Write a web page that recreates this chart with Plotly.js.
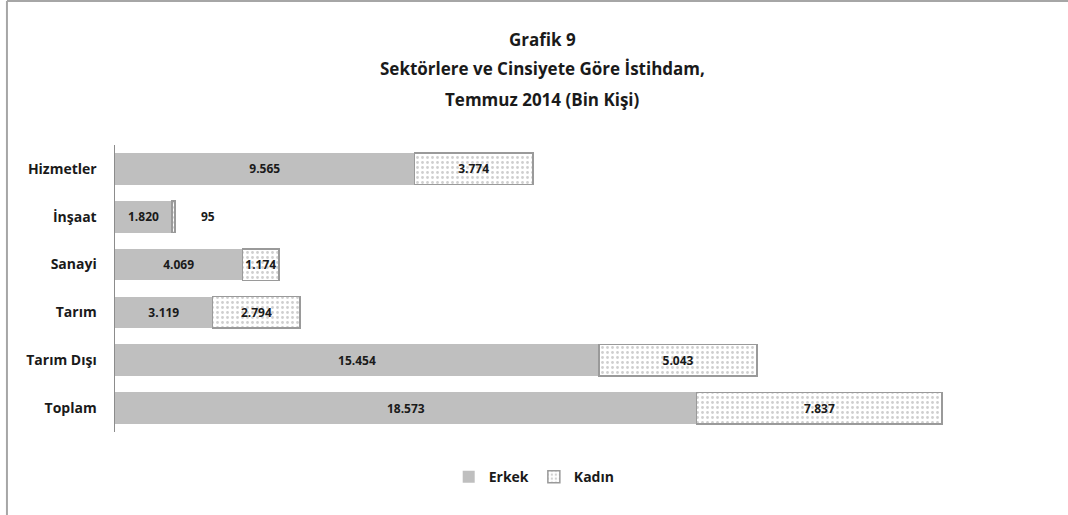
<!DOCTYPE html>
<html>
<head>
<meta charset="utf-8">
<script src="https://cdn.plot.ly/plotly-3.0.1.min.js"></script>
<style>html,body{margin:0;padding:0;background:#fff}#chart{width:1068px;height:515px}</style>
</head>
<body>
<div id="chart"></div>
<script>
const categories = ["Hizmetler", "İnşaat", "Sanayi", "Tarım", "Tarım Dışı", "Toplam"];
const erkek = [9565, 1820, 4069, 3119, 15454, 18573];
const kadin = [3774, 95, 1174, 2794, 5043, 7837];
const erkekLabels = ["9.565", "1.820", "4.069", "3.119", "15.454", "18.573"];
const kadinLabels = ["3.774", "95", "1.174", "2.794", "5.043", "7.837"];
const titleLines = ["Grafik 9", "Sektörlere ve Cinsiyete Göre İstihdam,", "Temmuz 2014 (Bin Kişi)"];

const FONT = "Open Sans, Noto Sans, sans-serif";
const labelFont = {family: FONT, size: 12, color: "#1a1a1a", weight: "bold"};

// labels too small to fit inside their bar are written beside it
const kadinTextPos = kadin.map(v => v < 500 ? "none" : "inside");

const traces = [
  {
    type: "bar", orientation: "h", name: "Erkek",
    y: categories, x: erkek, text: erkekLabels,
    textposition: "inside", insidetextanchor: "middle",
    textfont: labelFont, insidetextfont: labelFont, constraintext: "none",
    marker: {color: "#bfbfbf", line: {width: 0}},
    hoverinfo: "skip"
  },
  {
    type: "bar", orientation: "h", name: "Kadın",
    y: categories, x: kadin, text: kadinLabels,
    textposition: kadinTextPos, insidetextanchor: "middle",
    textfont: labelFont, insidetextfont: labelFont, constraintext: "none",
    marker: {
      color: "#ffffff",
      line: {color: "#9a9a9a", width: 1.5},
      pattern: {shape: ".", fgcolor: "#cfcfcf", bgcolor: "#ffffff", size: 5, solidity: 0.25}
    },
    hoverinfo: "skip"
  }
];

const titleY = [1.366, 1.268, 1.157];
const annotations = titleLines.map((t, i) => ({
  text: "<b>" + t + "</b>", xref: "paper", yref: "paper",
  x: 0.488, y: titleY[i], xanchor: "center", yanchor: "middle",
  showarrow: false, font: {family: FONT, size: 17, color: "#1a1a1a"}
}));
kadin.forEach((v, i) => {
  if (v < 500) {
    annotations.push({
      text: kadinLabels[i], x: erkek[i] + v, y: categories[i], xref: "x", yref: "y",
      xanchor: "left", xshift: 24, showarrow: false, font: labelFont
    });
  }
});

const layout = {
  width: 1068, height: 515,
  margin: {l: 115, r: 76, t: 145, b: 83},
  paper_bgcolor: "#ffffff", plot_bgcolor: "#ffffff",
  barmode: "stack", bargap: 0.34,
  showlegend: true,
  legend: {
    orientation: "h", x: 0.478, xanchor: "center", y: -0.157, yanchor: "middle",
    font: {family: FONT, size: 14, color: "#1a1a1a", weight: "bold"},
    itemwidth: 30, traceorder: "normal"
  },
  xaxis: {
    range: [0, 28000], showgrid: false, zeroline: false, showline: false,
    showticklabels: false, ticks: "", fixedrange: true
  },
  yaxis: {
    autorange: "reversed", showgrid: false, zeroline: false,
    showline: true, linecolor: "#8c8c8c", linewidth: 1.5,
    ticks: "", ticklabelstandoff: 14,
    tickfont: {family: FONT, size: 14, color: "#1a1a1a", weight: "bold"}
  },
  annotations: annotations,
  shapes: [
    {type: "line", xref: "paper", yref: "paper", x0: -0.1232, x1: -0.1232, y0: 1.5017, y1: -0.29,
     line: {color: "#a6a6a6", width: 2}},
    {type: "line", xref: "paper", yref: "paper", x0: -0.1232, x1: 1.09, y0: 1.5017, y1: 1.5017,
     line: {color: "#a6a6a6", width: 2}}
  ]
};

Plotly.newPlot("chart", traces, layout, {displayModeBar: false, staticPlot: true});
</script>
</body>
</html>
